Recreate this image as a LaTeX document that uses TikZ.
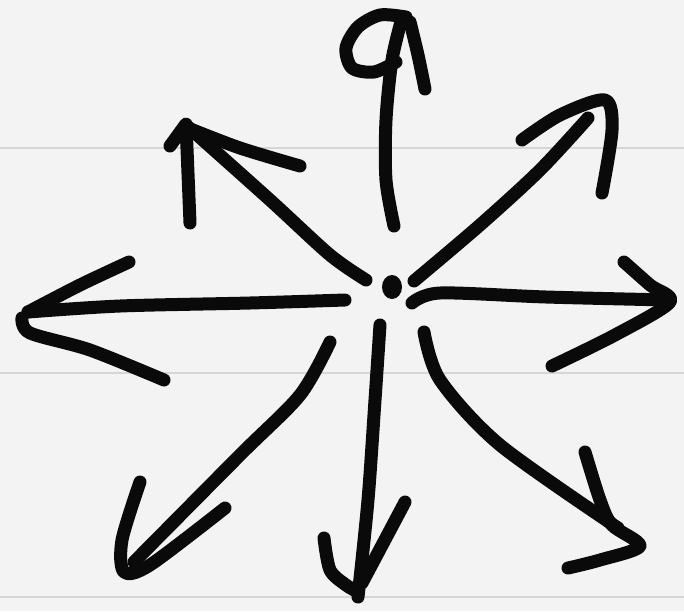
\documentclass[tikz,border=0pt]{standalone}
\usepackage{tikz}

\definecolor{paper}{HTML}{F3F3F3}
\definecolor{ruling}{HTML}{D6D6D6}
\definecolor{ink}{HTML}{0A0A0A}

\tikzset{
  pen/.style={draw=ink, line width=13pt, line cap=round, line join=round},
  rule/.style={draw=ruling, line width=1.6pt}
}

\begin{document}
\begin{tikzpicture}[x=1pt, y=-1pt]
  % paper and ruled lines
  \fill[paper] (0,0) rectangle (684,611);
  \useasboundingbox (0,0) rectangle (684,611);
  \foreach \yy in {148, 373, 597}
    \draw[rule] (0,\yy) -- (684,\yy);
  % centre dot
  \fill[ink] (392,287) ellipse (10pt and 12pt);
  % top arrow with the q loop
  \draw[pen] plot[smooth] coordinates {(394,226) (386,180) (386,120) (392,60) (402,18)};
  \draw[pen] plot[smooth] coordinates {(406,17) (380,15) (358,27) (346,48) (352,68) (374,72) (396,62)};
  \draw[pen] plot[smooth] coordinates {(410,22) (418,55) (425,89)};
  % upper left arrow
  \draw[pen] plot[smooth] coordinates {(366,280) (330,255) (270,200) (186,125)};
  \draw[pen] (170,146) -- (186,124) -- (190,223);
  \draw[pen] plot[smooth] coordinates {(188,128) (240,148) (300,166)};
  % upper right arrow
  \draw[pen] plot[smooth] coordinates {(414,281) (480,225) (540,170) (588,118)};
  \draw[pen] plot[smooth] coordinates {(522,140) (560,115) (605,100) (612,130) (602,193)};
  % right arrow
  \draw[pen] plot[smooth] coordinates {(412,303) (440,293) (546,297) (668,300)};
  \draw[pen] plot[smooth] coordinates {(624,262) (650,285) (670,302) (615,335) (552,366)};
  % left arrow
  \draw[pen] plot[smooth] coordinates {(345,300) (250,303) (120,306) (28,312)};
  \draw[pen] plot[smooth] coordinates {(129,262) (80,285) (28,312)};
  \draw[pen] plot[smooth] coordinates {(22,318) (30,333) (90,350) (164,380)};
  % lower left arrow
  \draw[pen] plot[smooth] coordinates {(330,342) (300,395) (240,455) (134,562)};
  \draw[pen] plot[smooth] coordinates {(140,482) (122,540) (124,572) (150,565) (225,508)};
  % lower arrow
  \draw[pen] plot[smooth] coordinates {(380,325) (375,400) (368,500) (358,597)};
  \draw[pen] plot[smooth] coordinates {(324,538) (330,570) (346,585) (358,592)};
  \draw[pen] (405,502) -- (362,583);
  % lower right arrow
  \draw[pen] plot[smooth] coordinates {(424,332) (440,380) (500,445) (618,528)};
  \draw[pen] plot[smooth] coordinates {(585,452) (600,500) (612,525) (640,546) (600,560) (568,568)};
\end{tikzpicture}
\end{document}
